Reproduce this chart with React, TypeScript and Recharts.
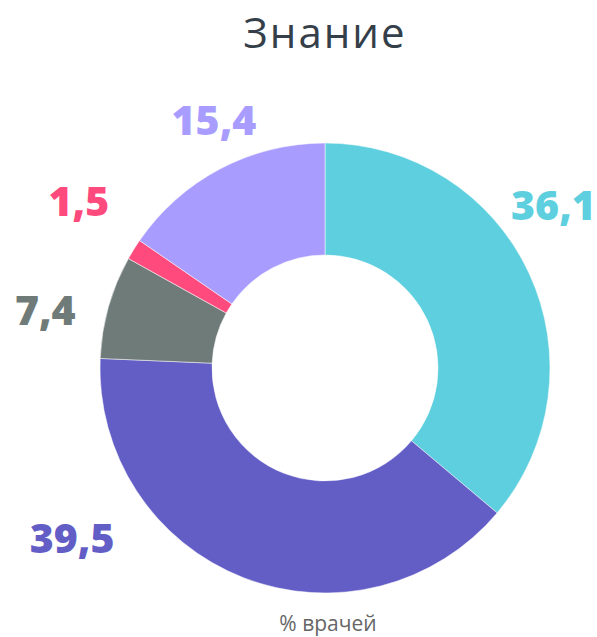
import React from 'react'
import { Cell, Pie, PieChart } from 'recharts'

const categories = ['A', 'B', 'C', 'D', 'E']
const values = [36.1, 39.5, 7.4, 1.5, 15.4]
const valueLabels = ['36,1', '39,5', '7,4', '1,5', '15,4']
const colors = ['#5ecfde', '#635ec6', '#6f7b79', '#ff4a7d', '#a99cff']

// label placement (angle in degrees, distance from center); null angle = slice mid angle
const labelAngles: (number | null)[] = [35.6, -146.3, 168, 145.7, 114]
const labelRadii = [281, 304, 286, 298, 273]

const data = categories.map((name, i) => ({ name, value: values[i] }))

const FONT = '"Open Sans", "Noto Sans", sans-serif'

const renderLabel = (props: any) => {
  const { cx, cy, midAngle, index } = props
  const a = ((labelAngles[index] ?? midAngle) * Math.PI) / 180
  const r = labelRadii[index]
  const x = cx + r * Math.cos(a)
  const y = cy - r * Math.sin(a)
  return (
    <text
      x={x}
      y={y}
      fill={colors[index]}
      textAnchor="middle"
      dominantBaseline="central"
      fontFamily={FONT}
      fontWeight={800}
      fontSize={41}
    >
      {valueLabels[index]}
    </text>
  )
}

const App: React.FC = () => {
  return (
    <div style={{ position: 'absolute', left: 0, top: 0, width: 597, height: 637, background: '#fff', overflow: 'hidden' }}>
      <div
        style={{
          position: 'absolute',
          left: 0,
          top: 6,
          width: 650,
          textAlign: 'center',
          fontFamily: FONT,
          fontSize: 42,
          lineHeight: '52px',
          letterSpacing: 2,
          color: '#353f4a',
        }}
      >
        Знание
      </div>
      <PieChart width={597} height={637} margin={{ top: 0, right: 0, bottom: 0, left: 0 }}>
        <Pie
          data={data}
          dataKey="value"
          cx={325}
          cy={368}
          innerRadius={113}
          outerRadius={225}
          startAngle={90}
          endAngle={-270}
          stroke="#fff"
          strokeWidth={0.5}
          label={renderLabel}
          labelLine={false}
          isAnimationActive={false}
        >
          {data.map((d, i) => (
            <Cell key={d.name} fill={colors[i]} />
          ))}
        </Pie>
      </PieChart>
      <div
        style={{
          position: 'absolute',
          left: 0,
          top: 611,
          width: 656,
          textAlign: 'center',
          fontFamily: FONT,
          fontSize: 21,
          lineHeight: '24px',
          color: '#666',
        }}
      >
        % врачей
      </div>
    </div>
  )
}

export default App
